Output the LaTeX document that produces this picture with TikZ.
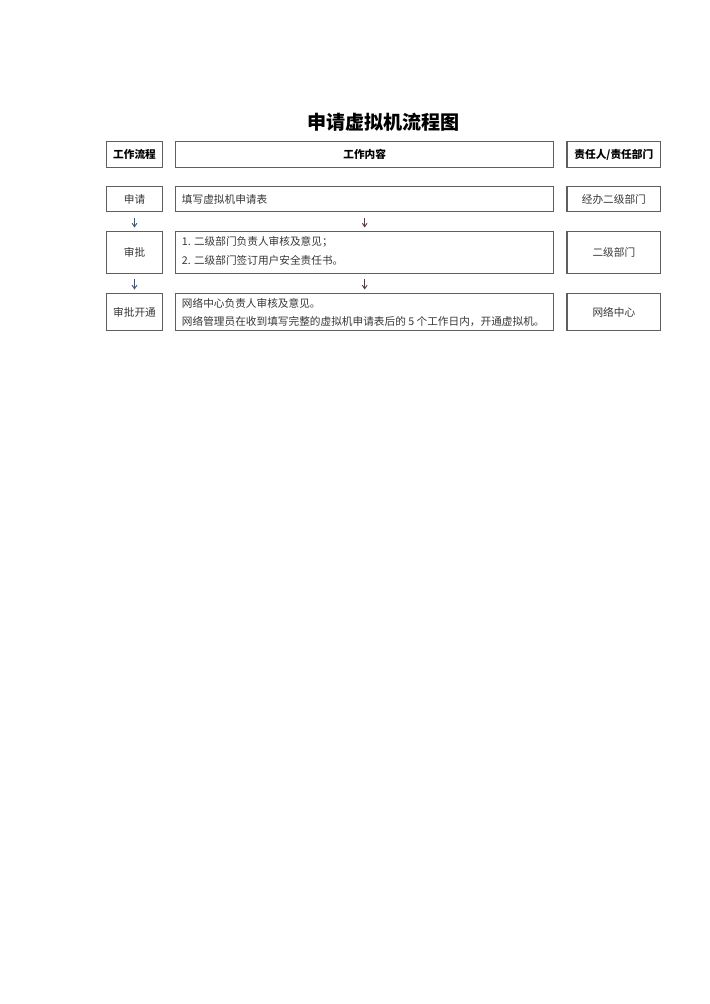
\documentclass[tikz,border=0pt]{standalone}
\usepackage{fontspec}
\setmainfont{Noto Sans CJK SC}
\usetikzlibrary{fit,arrows.meta}
\definecolor{bordercol}{RGB}{95,95,95}
\definecolor{bodycol}{RGB}{55,55,55}
\definecolor{arrL}{RGB}{60,85,130}
\definecolor{arrR}{RGB}{95,60,60}
\tikzset{
  box/.style={draw=bordercol, line width=0.9pt, inner sep=0pt, rectangle},
  hdr/.style={font=\fontsize{8}{9}\selectfont\bfseries, text=black, inner sep=0pt},
  body/.style={font=\fontsize{8}{9}\selectfont, text=bodycol, inner sep=0pt},
  flowarrow/.style={-{Straight Barb[length=2.6pt,width=3.6pt]}, line width=0.7pt, shorten >=2.4pt, shorten <=3.9pt},
}
\begin{document}
\begin{tikzpicture}[x=0.75pt,y=-0.75pt]
\path[fill=white] (0,0) rectangle (710,1004);
\useasboundingbox (0,0) rectangle (710,1004);

\node[font=\fontsize{14.3}{16}\selectfont\bfseries, inner sep=0pt] (title) at (383.5,122) {申请虚拟机流程图};

% header row
\node[box, fit={(106.7,141.7)(162.3,167.3)}] (h1) {};
\node[box, fit={(175.7,141.7)(553.7,167.3)}] (h2) {};
\node[box, fit={(567,141.7)(660.7,167.3)}] (h3) {};
\node[hdr] (h1t) at (h1) {工作流程};
\node[hdr] (h2t) at (h2) {工作内容};
\node[hdr] (h3t) at (h3) {责任人/责任部门};

% row 1
\node[box, fit={(106.7,186.7)(162.3,211.7)}] (a1) {};
\node[box, fit={(175.7,186.7)(553.7,211.7)}] (b1) {};
\node[box, fit={(567,186.7)(660.7,211.7)}] (c1) {};
\node[body] (a1t) at (a1) {申请};
\node[body, anchor=west] (b1t) at (181.7,199.2) {填写虚拟机申请表};
\node[body] (c1t) at (c1) {经办二级部门};

% row 2
\node[box, fit={(106.7,231.3)(162.3,273.3)}] (a2) {};
\node[box, fit={(175.7,231.3)(553.7,273.3)}] (b2) {};
\node[box, fit={(567,231.3)(660.7,273.3)}] (c2) {};
\node[body] (a2t) at (a2) {审批};
\node[body, anchor=west] (b2t1) at (181.7,242.3) {1. 二级部门负责人审核及意见；};
\node[body, anchor=west] (b2t2) at (181.7,260.7) {2. 二级部门签订用户安全责任书。};
\node[body] (c2t) at (c2) {二级部门};

% row 3
\node[box, fit={(106.7,293.3)(162.3,330.7)}] (a3) {};
\node[box, fit={(175.7,293.3)(553.7,330.7)}] (b3) {};
\node[box, fit={(567,293.3)(660.7,330.7)}] (c3) {};
\node[body] (a3t) at (a3) {审批开通};
\node[body, anchor=west] (b3t1) at (181.7,303.3) {网络中心负责人审核及意见。};
\node[body, anchor=west] (b3t2) at (181.7,321.7) {网络管理员在收到填写完整的虚拟机申请表后的 5 个工作日内，开通虚拟机。};
\node[body] (c3t) at (c3) {网络中心};

% arrows
\draw[flowarrow, arrL] (a1) -- (a2);
\draw[flowarrow, arrL] (a2) -- (a3);
\draw[flowarrow, arrR] (b1) -- (b2);
\draw[flowarrow, arrR] (b2) -- (b3);
\end{tikzpicture}
\end{document}
